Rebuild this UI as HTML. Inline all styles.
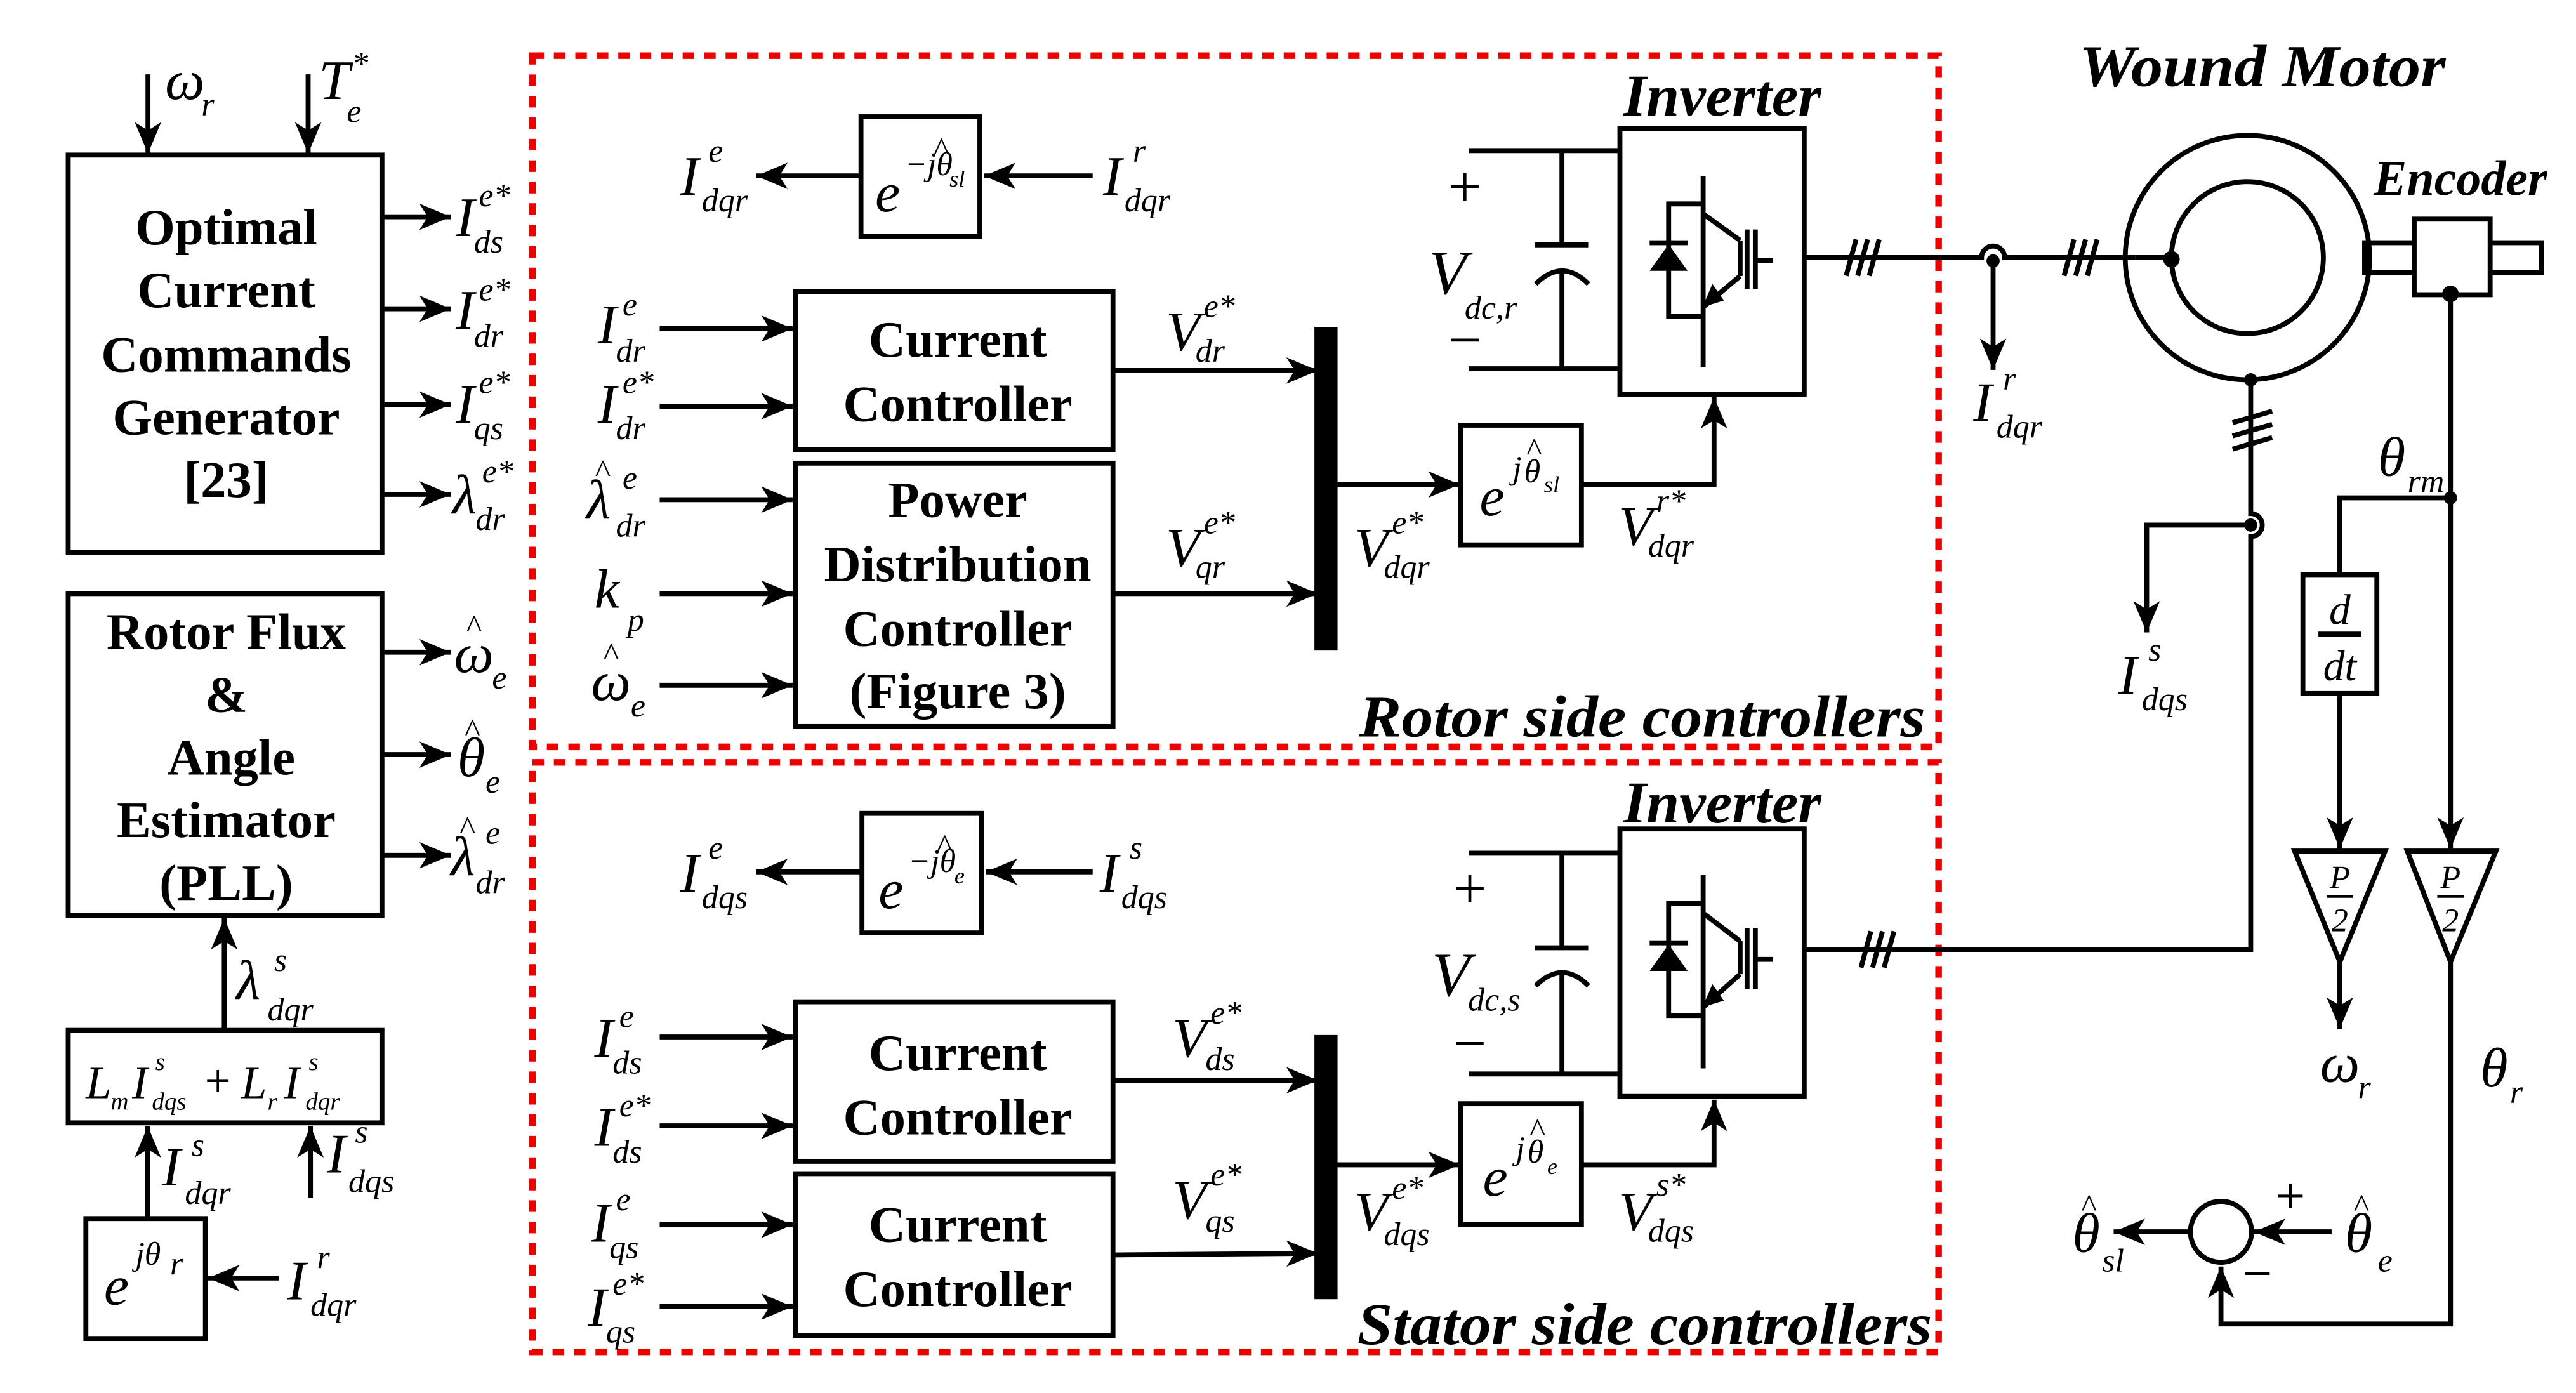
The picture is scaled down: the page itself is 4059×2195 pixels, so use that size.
<!DOCTYPE html>
<html><head><meta charset="utf-8"><style>
html,body{margin:0;padding:0;background:#fff}
svg{display:block}
text{font-family:"Liberation Serif","Times New Roman","DejaVu Serif",serif;fill:#000}
.b{font-weight:bold;font-size:31px;text-anchor:middle}
.m{font-style:italic;font-size:34px}
.s{font-style:italic;font-size:20px}
.t{font-style:italic;font-weight:bold;font-size:36px}
.l{stroke:#000;stroke-width:3;fill:none}
.bx{stroke:#000;stroke-width:3;fill:#fff}
.rd{stroke:#e00;stroke-width:4;fill:none;stroke-dasharray:7,6}
</style></head><body>
<svg width="4059" height="2195" viewBox="0 0 1560 843.6" preserveAspectRatio="none" xmlns="http://www.w3.org/2000/svg">
<defs>
<marker id="a" markerUnits="userSpaceOnUse" markerWidth="20" markerHeight="16" refX="19" refY="8" orient="auto"><path d="M0,0 L19,8 L0,16 L5,8 z" fill="#000"/></marker>
</defs>
<rect width="1560" height="843.6" fill="#fff"/>

<rect class="rd" x="322.4" y="33.7" width="851.6" height="418.6"/>
<rect class="rd" x="322.4" y="461.7" width="851.6" height="357"/>

<!-- LEFT COLUMN -->
<line class="l" x1="89.6" y1="45" x2="89.6" y2="93" marker-end="url(#a)"/>
<line class="l" x1="186.6" y1="45" x2="186.6" y2="93" marker-end="url(#a)"/>
<text class="m" x="100" y="60">ω</text><text class="s" x="122" y="70">r</text>
<text class="m" x="193" y="60">T</text><text class="s" x="213" y="45">*</text><text class="s" x="210" y="74">e</text>

<rect class="bx" x="41.3" y="93.9" width="190" height="240.5"/>
<text class="b" x="137" y="148">Optimal</text>
<text class="b" x="137" y="186">Current</text>
<text class="b" x="137" y="225">Commands</text>
<text class="b" x="137" y="263">Generator</text>
<text class="b" x="137" y="301">[23]</text>

<line class="l" x1="231" y1="131.3" x2="273" y2="131.3" marker-end="url(#a)"/>
<line class="l" x1="231" y1="187" x2="273" y2="187" marker-end="url(#a)"/>
<line class="l" x1="231" y1="245" x2="273" y2="245" marker-end="url(#a)"/>
<line class="l" x1="231" y1="299.4" x2="273" y2="299.4" marker-end="url(#a)"/>
<text class="m" x="276" y="143">I</text><text class="s" x="290" y="125">e*</text><text class="s" x="287" y="153">ds</text>
<text class="m" x="276" y="199">I</text><text class="s" x="290" y="182">e*</text><text class="s" x="287" y="210">dr</text>
<text class="m" x="276" y="256">I</text><text class="s" x="290" y="238">e*</text><text class="s" x="287" y="266">qs</text>
<text class="m" x="274" y="311">λ</text><text class="s" x="292" y="292">e*</text><text class="s" x="288" y="321">dr</text>

<rect class="bx" x="41.3" y="359.5" width="190" height="194.8"/>
<text class="b" x="137" y="393">Rotor Flux</text>
<text class="b" x="137" y="431">&amp;</text>
<text class="b" x="140" y="469">Angle</text>
<text class="b" x="137" y="507">Estimator</text>
<text class="b" x="137" y="545">(PLL)</text>

<line class="l" x1="231" y1="395" x2="273" y2="395" marker-end="url(#a)"/>
<line class="l" x1="231" y1="457" x2="273" y2="457" marker-end="url(#a)"/>
<line class="l" x1="231" y1="518" x2="273" y2="518" marker-end="url(#a)"/>
<text class="m" x="275" y="407">ω</text><text class="s" x="282" y="386">^</text><text class="s" x="298" y="417">e</text>
<text class="m" x="277" y="470">θ</text><text class="s" x="281" y="449">^</text><text class="s" x="294" y="480">e</text>
<text class="m" x="273" y="530">λ</text><text class="s" x="278" y="508">^</text><text class="s" x="294" y="511">e</text><text class="s" x="288" y="541">dr</text>

<line class="l" x1="135.8" y1="624" x2="135.8" y2="556" marker-end="url(#a)"/>
<text class="m" x="143" y="605">λ</text><text class="s" x="166" y="588">s</text><text class="s" x="162" y="618">dqr</text>

<rect class="bx" x="41.3" y="624" width="190" height="56"/>
<text class="m" x="52" y="665" style="font-size:28px">L</text><text class="s" x="67" y="672" style="font-size:15px">m</text>
<text class="m" x="80" y="665" style="font-size:28px">I</text><text class="s" x="94" y="648" style="font-size:15px">s</text><text class="s" x="92" y="672" style="font-size:15px">dqs</text>
<text x="124" y="664" style="font-size:28px">+</text>
<text class="m" x="146" y="665" style="font-size:28px">L</text><text class="s" x="162" y="672" style="font-size:15px">r</text>
<text class="m" x="172" y="665" style="font-size:28px">I</text><text class="s" x="187" y="648" style="font-size:15px">s</text><text class="s" x="185" y="672" style="font-size:15px">dqr</text>

<line class="l" x1="89.5" y1="737" x2="89.5" y2="682" marker-end="url(#a)"/>
<line class="l" x1="188" y1="725.5" x2="188" y2="682" marker-end="url(#a)"/>
<text class="m" x="98" y="718">I</text><text class="s" x="116" y="700">s</text><text class="s" x="112" y="729">dqr</text>
<text class="m" x="198" y="710">I</text><text class="s" x="215" y="692">s</text><text class="s" x="211" y="722">dqs</text>

<rect class="bx" x="52" y="738" width="72.4" height="72.6"/>
<text class="m" x="63" y="790">e</text><text class="s" x="82" y="766">jθ</text><text class="s" x="103" y="772">r</text>
<line class="l" x1="169" y1="774" x2="126" y2="774" marker-end="url(#a)"/>
<text class="m" x="174" y="787">I</text><text class="s" x="192" y="768">r</text><text class="s" x="188" y="797">dqr</text>

<!-- ROTOR SIDE -->
<rect class="bx" x="521.4" y="70.7" width="72" height="72.3"/>
<text class="m" x="530" y="128">e</text><text class="s" x="548" y="106">−jθ</text><text class="s" x="565" y="97">^</text><text class="s" x="575" y="113" style="font-size:14px">sl</text>
<line class="l" x1="661.7" y1="106.5" x2="596" y2="106.5" marker-end="url(#a)"/>
<line class="l" x1="521.4" y1="106.5" x2="458" y2="106.5" marker-end="url(#a)"/>
<text class="m" x="412" y="118">I</text><text class="s" x="429" y="98">e</text><text class="s" x="425" y="128">dqr</text>
<text class="m" x="668" y="118">I</text><text class="s" x="686" y="98">r</text><text class="s" x="681" y="128">dqr</text>

<rect class="bx" x="481.6" y="176.6" width="192.4" height="95.8"/>
<text class="b" x="580" y="216">Current</text>
<text class="b" x="580" y="255">Controller</text>
<rect class="bx" x="481.6" y="280.5" width="192.4" height="159.5"/>
<text class="b" x="580" y="313">Power</text>
<text class="b" x="580" y="352">Distribution</text>
<text class="b" x="580" y="391">Controller</text>
<text class="b" x="580" y="429">(Figure 3)</text>

<line class="l" x1="399.5" y1="199" x2="480" y2="199" marker-end="url(#a)"/>
<line class="l" x1="399.5" y1="246" x2="480" y2="246" marker-end="url(#a)"/>
<line class="l" x1="399.5" y1="302.6" x2="480" y2="302.6" marker-end="url(#a)"/>
<line class="l" x1="399.5" y1="359.5" x2="480" y2="359.5" marker-end="url(#a)"/>
<line class="l" x1="399.5" y1="415" x2="480" y2="415" marker-end="url(#a)"/>
<text class="m" x="362" y="208">I</text><text class="s" x="377" y="191">e</text><text class="s" x="373" y="219">dr</text>
<text class="m" x="362" y="256">I</text><text class="s" x="377" y="238">e*</text><text class="s" x="373" y="266">dr</text>
<text class="m" x="355" y="314">λ</text><text class="s" x="360" y="292">^</text><text class="s" x="377" y="296">e</text><text class="s" x="373" y="325">dr</text>
<text class="m" x="360" y="368">k</text><text class="s" x="380" y="382">p</text>
<text class="m" x="358" y="424">ω</text><text class="s" x="365" y="403">^</text><text class="s" x="382" y="434">e</text>

<line class="l" x1="674" y1="224.4" x2="798" y2="224.4" marker-end="url(#a)"/>
<line class="l" x1="674" y1="359.5" x2="798" y2="359.5" marker-end="url(#a)"/>
<text class="m" x="706" y="212">V</text><text class="s" x="729" y="192">e*</text><text class="s" x="724" y="219">dr</text>
<text class="m" x="706" y="343">V</text><text class="s" x="729" y="323">e*</text><text class="s" x="724" y="350">qr</text>
<rect x="796" y="198" width="14" height="196" fill="#000"/>

<line class="l" x1="810" y1="293.4" x2="884" y2="293.4" marker-end="url(#a)"/>
<text class="m" x="820" y="343">V</text><text class="s" x="843" y="323">e*</text><text class="s" x="838" y="350">dqr</text>
<rect class="bx" x="884.7" y="257.5" width="73" height="72.5"/>
<text class="m" x="896" y="312">e</text><text class="s" x="916" y="290">j</text><text class="s" x="923" y="292">θ</text><text class="s" x="924" y="279">^</text><text class="s" x="935" y="298" style="font-size:14px">sl</text>
<polyline class="l" points="957.8,293.4 1038,293.4 1038,240.5" marker-end="url(#a)"/>
<text class="m" x="980" y="330">V</text><text class="s" x="1003" y="310">r*</text><text class="s" x="998" y="337">dqr</text>

<text class="t" x="1043" y="70" text-anchor="middle">Inverter</text>
<rect class="bx" x="981" y="77.7" width="111.6" height="161"/>
<line class="l" x1="889.6" y1="91.2" x2="981" y2="91.2"/>
<line class="l" x1="889.6" y1="223.3" x2="981" y2="223.3"/>
<line class="l" x1="945.9" y1="91.2" x2="945.9" y2="148.3"/>
<line class="l" x1="929.5" y1="148.3" x2="961.8" y2="148.3"/>
<path class="l" d="M930,172 Q946,156 962,172"/>
<line class="l" x1="945.9" y1="164" x2="945.9" y2="223.3"/>
<text x="877" y="125" style="font-size:36px">+</text>
<text x="877" y="218" style="font-size:36px">−</text>
<text class="m" x="865" y="178" style="font-size:38px">V</text><text class="s" x="887" y="193">dc,r</text>
<g class="l">
<line x1="1031.4" y1="106.5" x2="1031.4" y2="222.5"/>
<line x1="1031.4" y1="129.5" x2="1053.8" y2="145.6"/>
<line x1="1053.8" y1="167.2" x2="1031.4" y2="186"/>
<line x1="1058" y1="139" x2="1058" y2="175"/>
<line x1="1063" y1="139" x2="1063" y2="175"/>
<line x1="1063" y1="157.8" x2="1073.7" y2="157.8"/>
<polyline points="1031.4,123.5 1010.5,123.5 1010.5,191.5 1031.4,191.5"/>
<line x1="999" y1="147" x2="1022" y2="147"/>
</g>
<line x1="1053.8" y1="145.6" x2="1053.8" y2="167.2" stroke="#000" stroke-width="3"/>
<path d="M1010.5,148 L999,164 L1022,164 z" fill="#000"/>
<path d="M1031,186 L1037,172 L1044,182 z" fill="#000"/>

<path class="l" d="M1092.6,156 L1200,156 A7,7 0 0 1 1214,156 L1293,156"/>
<line class="l" x1="1293" y1="156" x2="1315" y2="156"/>
<circle cx="1207" cy="158" r="4" fill="#000"/>
<line class="l" x1="1207" y1="158" x2="1207" y2="224" marker-end="url(#a)"/>
<g class="l"><line x1="1118" y1="167" x2="1124" y2="145"/><line x1="1125" y1="167" x2="1131" y2="145"/><line x1="1132" y1="167" x2="1138" y2="145"/>
<line x1="1250" y1="167" x2="1256" y2="145"/><line x1="1257" y1="167" x2="1263" y2="145"/><line x1="1264" y1="167" x2="1270" y2="145"/></g>
<text class="m" x="1195" y="255">I</text><text class="s" x="1213" y="236">r</text><text class="s" x="1209" y="265">dqr</text>

<text class="t" x="1370" y="52" text-anchor="middle" textLength="222" lengthAdjust="spacingAndGlyphs">Wound Motor</text>
<text class="t" x="1490" y="118" text-anchor="middle" style="font-size:30px">Encoder</text>
<rect class="bx" x="1432" y="147" width="107" height="18"/>
<circle class="l" cx="1361" cy="156" r="74"/>
<circle class="l" cx="1361" cy="156" r="46"/>
<circle cx="1315" cy="157" r="5" fill="#000"/>
<rect class="bx" x="1462" y="132.7" width="46" height="45.8"/>
<circle cx="1484" cy="178" r="5" fill="#000"/>

<circle cx="1363" cy="230" r="4" fill="#000"/>
<path class="l" d="M1363,230 L1363,311 A7,7 0 0 1 1363,325 L1363,575 L1092.6,575"/>
<g class="l"><line x1="1352" y1="256" x2="1376" y2="249"/><line x1="1352" y1="264" x2="1376" y2="257"/><line x1="1352" y1="272" x2="1376" y2="265"/>
<line x1="1127" y1="586" x2="1133" y2="564"/><line x1="1134" y1="586" x2="1140" y2="564"/><line x1="1141" y1="586" x2="1147" y2="564"/></g>
<circle cx="1363" cy="318" r="4" fill="#000"/>
<polyline class="l" points="1363,318 1300,318 1300,383" marker-end="url(#a)"/>
<text class="m" x="1283" y="420">I</text><text class="s" x="1301" y="400">s</text><text class="s" x="1297" y="430">dqs</text>

<line class="l" x1="1484" y1="178" x2="1484" y2="514" marker-end="url(#a)"/>
<circle cx="1484" cy="301.5" r="4" fill="#000"/>
<polyline class="l" points="1484,301.5 1417,301.5 1417,348"/>
<text class="m" x="1440" y="288">θ</text><text class="s" x="1458" y="298">rm</text>
<rect class="bx" x="1394.6" y="348" width="44.8" height="72"/>
<text class="m" x="1417" y="378" text-anchor="middle" style="font-size:26px">d</text>
<line class="l" x1="1404" y1="384" x2="1430" y2="384"/>
<text class="m" x="1417" y="412" text-anchor="middle" style="font-size:26px">dt</text>
<line class="l" x1="1417" y1="420" x2="1417" y2="514" marker-end="url(#a)"/>
<path class="l" d="M1389.6,515.4 L1444.4,515.4 L1417,582.5 z"/>
<path class="l" d="M1457.8,515.4 L1511.5,515.4 L1484,582.5 z"/>
<text class="m" x="1417" y="538" text-anchor="middle" style="font-size:20px">P</text><line x1="1409" y1="543" x2="1425" y2="543" stroke="#000" stroke-width="1.5"/><text class="m" x="1417" y="564" text-anchor="middle" style="font-size:20px">2</text>
<text class="m" x="1484" y="538" text-anchor="middle" style="font-size:20px">P</text><line x1="1476" y1="543" x2="1492" y2="543" stroke="#000" stroke-width="1.5"/><text class="m" x="1484" y="564" text-anchor="middle" style="font-size:20px">2</text>
<line class="l" x1="1417" y1="582.5" x2="1417" y2="623" marker-end="url(#a)"/>
<text class="m" x="1405" y="655">ω</text><text class="s" x="1428" y="665">r</text>
<text class="m" x="1502" y="658">θ</text><text class="s" x="1520" y="668">r</text>
<polyline class="l" points="1484,582.5 1484,801.8 1345,801.8 1345,767" marker-end="url(#a)"/>
<circle class="l" cx="1345" cy="746" r="18.5"/>
<line class="l" x1="1412" y1="746" x2="1365" y2="746" marker-end="url(#a)"/>
<line class="l" x1="1326.5" y1="746" x2="1280" y2="746" marker-end="url(#a)"/>
<text x="1378" y="735" style="font-size:32px">+</text>
<text x="1358" y="782" style="font-size:32px">−</text>
<text class="m" x="1255" y="758">θ</text><text class="s" x="1260" y="737">^</text><text class="s" x="1273" y="770">sl</text>
<text class="m" x="1420" y="758">θ</text><text class="s" x="1425" y="737">^</text><text class="s" x="1440" y="770">e</text>

<text class="t" x="1166" y="446" text-anchor="end" textLength="343" lengthAdjust="spacingAndGlyphs">Rotor side controllers</text>
<text class="t" x="1170" y="814" text-anchor="end" textLength="348" lengthAdjust="spacingAndGlyphs">Stator side controllers</text>

<!-- STATOR SIDE -->
<rect class="bx" x="522" y="492.6" width="72.5" height="72.4"/>
<text class="m" x="532" y="550">e</text><text class="s" x="550" y="528">−jθ</text><text class="s" x="567" y="519">^</text><text class="s" x="578" y="535" style="font-size:14px">e</text>
<line class="l" x1="661.7" y1="528" x2="597" y2="528" marker-end="url(#a)"/>
<line class="l" x1="522" y1="528" x2="458" y2="528" marker-end="url(#a)"/>
<text class="m" x="412" y="540">I</text><text class="s" x="429" y="520">e</text><text class="s" x="425" y="550">dqs</text>
<text class="m" x="666" y="540">I</text><text class="s" x="684" y="520">s</text><text class="s" x="679" y="550">dqs</text>

<rect class="bx" x="481.6" y="606.7" width="192.4" height="96.6"/>
<text class="b" x="580" y="648">Current</text>
<text class="b" x="580" y="687">Controller</text>
<rect class="bx" x="481.6" y="710.8" width="192.4" height="98"/>
<text class="b" x="580" y="752">Current</text>
<text class="b" x="580" y="791">Controller</text>
<line class="l" x1="399.5" y1="628" x2="480" y2="628" marker-end="url(#a)"/>
<line class="l" x1="399.5" y1="681.8" x2="480" y2="681.8" marker-end="url(#a)"/>
<line class="l" x1="399.5" y1="741.7" x2="480" y2="741.7" marker-end="url(#a)"/>
<line class="l" x1="399.5" y1="791.3" x2="480" y2="791.3" marker-end="url(#a)"/>
<text class="m" x="360" y="640">I</text><text class="s" x="375" y="622">e</text><text class="s" x="371" y="650">ds</text>
<text class="m" x="360" y="694">I</text><text class="s" x="375" y="676">e*</text><text class="s" x="371" y="704">ds</text>
<text class="m" x="358" y="752">I</text><text class="s" x="373" y="733">e</text><text class="s" x="369" y="762">qs</text>
<text class="m" x="356" y="803">I</text><text class="s" x="371" y="784">e*</text><text class="s" x="367" y="813">qs</text>

<line class="l" x1="674" y1="654.2" x2="798" y2="654.2" marker-end="url(#a)"/>
<line class="l" x1="674" y1="760" x2="798" y2="759" marker-end="url(#a)"/>
<text class="m" x="710" y="640">V</text><text class="s" x="733" y="620">e*</text><text class="s" x="730" y="648">ds</text>
<text class="m" x="710" y="738">V</text><text class="s" x="733" y="718">e*</text><text class="s" x="730" y="746">qs</text>
<rect x="796" y="626.8" width="14" height="160" fill="#000"/>

<line class="l" x1="810" y1="705.4" x2="884" y2="705.4" marker-end="url(#a)"/>
<text class="m" x="820" y="745">V</text><text class="s" x="843" y="726">e*</text><text class="s" x="838" y="754">dqs</text>
<rect class="bx" x="884.7" y="668.4" width="73" height="73.3"/>
<text class="m" x="898" y="724">e</text><text class="s" x="918" y="702">j</text><text class="s" x="925" y="704">θ</text><text class="s" x="926" y="691">^</text><text class="s" x="937" y="711" style="font-size:14px">e</text>
<polyline class="l" points="957.8,705.4 1038,705.4 1038,666" marker-end="url(#a)"/>
<text class="m" x="980" y="745">V</text><text class="s" x="1003" y="724">s*</text><text class="s" x="998" y="752">dqs</text>

<text class="t" x="1043" y="498" text-anchor="middle">Inverter</text>
<rect class="bx" x="981" y="502" width="111.6" height="162"/>
<line class="l" x1="889.6" y1="516.7" x2="981" y2="516.7"/>
<line class="l" x1="889.6" y1="650.4" x2="981" y2="650.4"/>
<line class="l" x1="945.9" y1="516.7" x2="945.9" y2="574"/>
<line class="l" x1="929.5" y1="574" x2="961.8" y2="574"/>
<path class="l" d="M930,597 Q946,581 962,597"/>
<line class="l" x1="945.9" y1="589" x2="945.9" y2="650.4"/>
<text x="880" y="550" style="font-size:36px">+</text>
<text x="880" y="644" style="font-size:36px">−</text>
<text class="m" x="867" y="603" style="font-size:38px">V</text><text class="s" x="889" y="612">dc,s</text>
<g class="l">
<line x1="1031.4" y1="530" x2="1031.4" y2="647"/>
<line x1="1031.4" y1="553" x2="1053.8" y2="570"/>
<line x1="1053.8" y1="590" x2="1031.4" y2="610"/>
<line x1="1053.8" y1="570" x2="1053.8" y2="590"/>
<line x1="1058" y1="562" x2="1058" y2="599"/>
<line x1="1063" y1="562" x2="1063" y2="599"/>
<line x1="1063" y1="581" x2="1073.7" y2="581"/>
<polyline points="1031.4,547 1010.5,547 1010.5,615 1031.4,615"/>
<line x1="999" y1="571" x2="1022" y2="571"/>
</g>
<path d="M1010.5,572 L999,588 L1022,588 z" fill="#000"/>
<path d="M1031,610 L1037,596 L1044,606 z" fill="#000"/>
</svg>
</body></html>
